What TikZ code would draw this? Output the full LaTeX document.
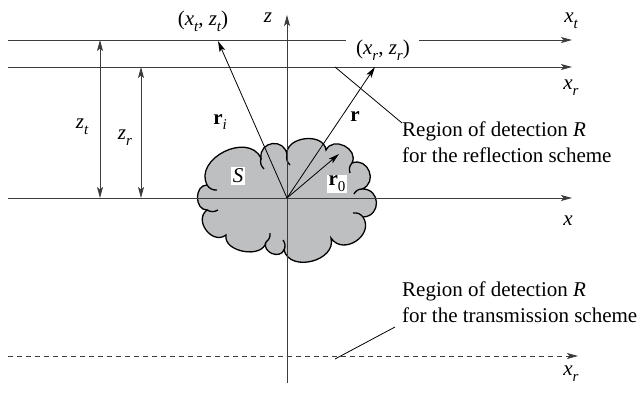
\documentclass[tikz,border=0pt]{standalone}
\usepackage{fontspec}
\IfFontExistsTF{LiberationSerif-Regular.ttf}
  {\setmainfont{LiberationSerif}[Extension=.ttf,UprightFont=*-Regular,ItalicFont=*-Italic,BoldFont=*-Bold,BoldItalicFont=*-BoldItalic]}
  {\setmainfont{Liberation Serif}}
\usetikzlibrary{arrows.meta}
\definecolor{cloudgray}{RGB}{190,191,193}
\definecolor{linegray}{RGB}{60,60,60}
\newcommand\sbs[1]{\raisebox{-0.28em}{\fontsize{15}{15}\selectfont\itshape #1}}
\begin{document}
\begin{tikzpicture}[x=1pt,y=-1pt,font=\fontsize{21}{26}\selectfont,
  tip/.tip={Stealth[length=11pt,width=6pt,inset=2.5pt]},
  ax/.style={line width=0.9pt,draw=linegray,-tip},
  dimarrow/.style={line width=0.9pt,draw=linegray,tip-tip},
  vec/.style={line width=0.8pt,-tip},
  lbl/.style={inner sep=0pt},
  whitelbl/.style={fill=white,inner sep=1.5pt},
  lead/.style={line width=0.8pt},
  cloudline/.style={line width=1.3pt}]
\useasboundingbox (0,0) rectangle (641,394);

% cloud junctions
\coordinate (cA) at (207,185);
\coordinate (cB) at (261,158);
\coordinate (cC) at (287,155);
\coordinate (cD) at (326,150);
\coordinate (cE) at (352,163);
\coordinate (cF) at (362,189);
\coordinate (cG) at (363,217);
\coordinate (cH) at (331,238);
\coordinate (cI) at (284,250);
\coordinate (cJ) at (266,242);
\coordinate (cK) at (226,235);
\coordinate (cL) at (207,210);
\path[fill=cloudgray,draw=black,cloudline,bend left=90]
  (cL) to[looseness=1.3] (cA)
  to[looseness=1.25] (cB)
  to[looseness=1.7] (cC)
  to[looseness=1.2] (cD)
  to[looseness=1.4] (cE)
  to[looseness=1.6] (cF)
  to[looseness=1.7] (cG)
  to[looseness=1.45] (cH)
  to[looseness=1.25] (cI)
  to[looseness=1.4] (cJ)
  to[looseness=1.1] (cK)
  to[looseness=1.4] (cL) -- cycle;
% hooks
\coordinate (hA) at (217,190);
\coordinate (hB) at (264,169);
\coordinate (hC) at (290,165);
\coordinate (hE) at (350,173);
\coordinate (hF) at (354,194);
\coordinate (hG) at (353,213);
\coordinate (hI) at (283,240);
\coordinate (hJ) at (270,233);
\coordinate (hL) at (218,210);
\foreach \j in {A,B,C,E,F,G,I,J,L}
  \draw[cloudline] (c\j) to[bend right=30] (h\j);

% horizontal lines
\coordinate (tL) at (8,40);
\coordinate (tG1) at (346,40);
\coordinate (tG2) at (419,40);
\coordinate (tR) at (572,40);
\draw[line width=0.9pt,draw=linegray] (tL) -- (tG1);
\draw[ax] (tG2) -- (tR);
\coordinate (rL) at (8,67);
\coordinate (rR) at (572,67);
\draw[ax] (rL) -- (rR);
\coordinate (xL) at (8,198);
\coordinate (xR) at (572,198);
\draw[ax] (xL) -- (xR);
\coordinate (dL) at (8,356);
\coordinate (dR) at (578,356);
\draw[ax,dash pattern=on 5pt off 4pt] (dL) -- (dR);
% z axis
\coordinate (zB) at (287,383);
\coordinate (zT) at (287,15);
\draw[ax] (zB) -- (zT);

% dimension arrows
\coordinate (ztT) at (100,40);
\coordinate (ztB) at (100,198);
\draw[dimarrow] (ztB) -- (ztT);
\coordinate (zrT) at (141,67);
\coordinate (zrB) at (141,198);
\draw[dimarrow] (zrB) -- (zrT);

% vectors
\coordinate (O) at (287,198);
\coordinate (ri) at (218,41);
\coordinate (rr) at (375,67);
\coordinate (r0) at (339,154);
\draw[vec] (O) -- (ri);
\draw[vec] (O) -- (rr);
\draw[vec] (O) -- (r0);

% leader lines
\coordinate (l1a) at (335,67);
\coordinate (l1b) at (402,123);
\draw[lead] (l1a) -- (l1b);
\coordinate (l2a) at (335,359);
\coordinate (l2b) at (395,327);
\draw[lead] (l2a) -- (l2b);

% labels
\node[lbl] (Lxtzt) at (203,21) {(\textit{x}\sbs{t}, \textit{z}\sbs{t})};
\node[lbl] (Lxrzr) at (383,50) {(\textit{x}\sbs{r}, \textit{z}\sbs{r})};
\node[lbl] (Lz) at (268,18) {\textit{z}};
\node[lbl] (Lxt) at (571,21) {\textit{x}\sbs{t}};
\node[lbl] (Lxr) at (571,88) {\textit{x}\sbs{r}};
\node[lbl] (Lx) at (568,221) {\textit{x}};
\node[lbl] (Lxr2) at (571,374) {\textit{x}\sbs{r}};
\node[lbl] (Lzt) at (82,127) {\textit{z}\sbs{t}};
\node[lbl] (Lzr) at (125,138) {\textit{z}\sbs{r}};
\node[lbl] (Lri) at (220,122) {\textbf{r}\sbs{i}};
\node[lbl] (Lr) at (355,117) {\textbf{r}};
\node[whitelbl] (Lr0) at (337,184) {\textbf{r}\raisebox{-0.28em}{\fontsize{15}{15}\selectfont 0}};
\node[whitelbl] (LS) at (238,176) {\textit{S}};
\node[lbl,anchor=west,align=left] (Lrefl) at (402,142)
  {Region of detection \textit{R}\\for the reflection scheme};
\node[lbl,anchor=west,align=left] (Ltrans) at (402,302)
  {Region of detection \textit{R}\\for the transmission scheme};
\end{tikzpicture}
\end{document}
